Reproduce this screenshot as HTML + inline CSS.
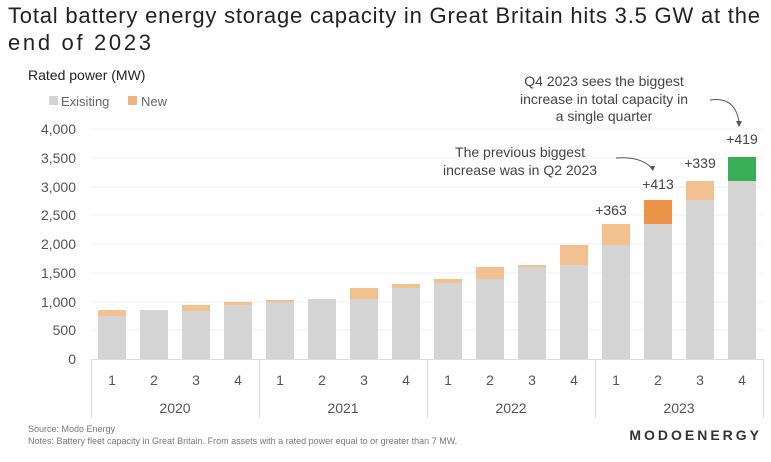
<!DOCTYPE html>
<html><head><meta charset="utf-8"><style>
body{margin:0;background:#fff;}
svg text{font-family:"Liberation Sans",sans-serif;}
</style></head><body>
<svg width="771" height="457" xmlns="http://www.w3.org/2000/svg">
<rect width="771" height="457" fill="#fff"/>
<text x="8" y="23" font-size="22" fill="#222" textLength="752" lengthAdjust="spacing">Total battery energy storage capacity in Great Britain hits 3.5 GW at the</text>
<text x="8" y="50" font-size="22" fill="#222" textLength="143" lengthAdjust="spacing">end of 2023</text>
<text x="28" y="80" font-size="14" fill="#222">Rated power (MW)</text>
<rect x="49" y="96" width="9" height="9" fill="#d4d4d4"/>
<text x="61" y="106" font-size="13" fill="#666">Exisiting</text>
<rect x="128" y="96" width="9" height="9" fill="#f0b57f"/>
<text x="141" y="106" font-size="13" fill="#666">New</text>
<g stroke="#f1f1f1" stroke-width="1">
<line x1="91" x2="763" y1="129" y2="129"/><line x1="91" x2="763" y1="158" y2="158"/><line x1="91" x2="763" y1="187" y2="187"/><line x1="91" x2="763" y1="215" y2="215"/><line x1="91" x2="763" y1="244" y2="244"/><line x1="91" x2="763" y1="273" y2="273"/><line x1="91" x2="763" y1="302" y2="302"/><line x1="91" x2="763" y1="330" y2="330"/>
</g>
<g font-size="14" fill="#555" text-anchor="end">
<text x="76" y="134">4,000</text><text x="76" y="163">3,500</text><text x="76" y="192">3,000</text><text x="76" y="220">2,500</text><text x="76" y="249">2,000</text><text x="76" y="278">1,500</text><text x="76" y="307">1,000</text><text x="76" y="335">500</text><text x="76" y="364">0</text>
</g>
<g fill="#d4d4d4">
<rect x="98" y="316" width="28" height="43"/><rect x="140" y="310" width="28" height="49"/><rect x="182" y="311" width="28" height="48"/><rect x="224" y="305" width="28" height="54"/>
<rect x="266" y="302" width="28" height="57"/><rect x="308" y="299" width="28" height="60"/><rect x="350" y="299" width="28" height="60"/><rect x="392" y="288" width="28" height="71"/>
<rect x="434" y="283" width="28" height="76"/><rect x="476" y="279" width="28" height="80"/><rect x="518" y="267" width="28" height="92"/><rect x="560" y="265" width="28" height="94"/>
<rect x="602" y="245" width="28" height="114"/><rect x="644" y="224" width="28" height="135"/><rect x="686" y="200" width="28" height="159"/><rect x="728" y="181" width="28" height="178"/>
</g>
<g fill="#f3c08f">
<rect x="98" y="310" width="28" height="6"/><rect x="182" y="305" width="28" height="6"/><rect x="224" y="302" width="28" height="3"/>
<rect x="266" y="300" width="28" height="2"/><rect x="350" y="288" width="28" height="11"/><rect x="392" y="284" width="28" height="4"/>
<rect x="434" y="279" width="28" height="4"/><rect x="476" y="267" width="28" height="12"/><rect x="518" y="265" width="28" height="2"/><rect x="560" y="245" width="28" height="20"/>
<rect x="602" y="224" width="28" height="21"/><rect x="686" y="181" width="28" height="19"/>
</g>
<rect x="644" y="200" width="28" height="24" fill="#eb9347"/>
<rect x="728" y="157" width="28" height="24" fill="#3aae57"/>
<g stroke="#ddd" stroke-width="1">
<line x1="91" x2="763" y1="359.5" y2="359.5"/>
<line x1="91.5" x2="91.5" y1="359" y2="418"/><line x1="259.5" x2="259.5" y1="359" y2="418"/><line x1="427.5" x2="427.5" y1="359" y2="418"/><line x1="595.5" x2="595.5" y1="359" y2="418"/><line x1="763.5" x2="763.5" y1="359" y2="418"/>
</g>
<g font-size="14" fill="#555" text-anchor="middle">
<text x="112" y="385">1</text><text x="154" y="385">2</text><text x="196" y="385">3</text><text x="238" y="385">4</text>
<text x="280" y="385">1</text><text x="322" y="385">2</text><text x="364" y="385">3</text><text x="406" y="385">4</text>
<text x="448" y="385">1</text><text x="490" y="385">2</text><text x="532" y="385">3</text><text x="574" y="385">4</text>
<text x="616" y="385">1</text><text x="658" y="385">2</text><text x="700" y="385">3</text><text x="742" y="385">4</text>
<text x="175" y="413">2020</text><text x="343" y="413">2021</text><text x="511" y="413">2022</text><text x="679" y="413">2023</text>
</g>
<g font-size="14" fill="#444" text-anchor="middle">
<text x="611" y="215">+363</text><text x="658" y="189">+413</text><text x="700" y="168">+339</text><text x="742" y="144">+419</text>
<text x="604" y="86">Q4 2023 sees the biggest</text><text x="604" y="104">increase in total capacity in</text><text x="604" y="121">a single quarter</text>
<text x="520" y="157">The previous biggest</text><text x="520" y="175">increase was in Q2 2023</text>
</g>
<g fill="none" stroke="#555" stroke-width="1">
<path d="M710 100 Q735 96 739 122"/><path d="M616 158 Q640 156 652 168"/>
</g>
<path d="M736 121 L742 121 L739 127 Z" fill="#555"/>
<path d="M649 166 L655 166 L653 171 Z" fill="#555"/>
<text x="28" y="432" font-size="9" fill="#777">Source: Modo Energy</text>
<text x="28" y="444" font-size="9" fill="#777">Notes: Battery fleet capacity in Great Britain. From assets with a rated power equal to or greater than 7 MW.</text>
<text x="762" y="440" font-size="14" font-weight="bold" fill="#333" text-anchor="end" letter-spacing="3">MODOENERGY</text>
</svg>
</body></html>
